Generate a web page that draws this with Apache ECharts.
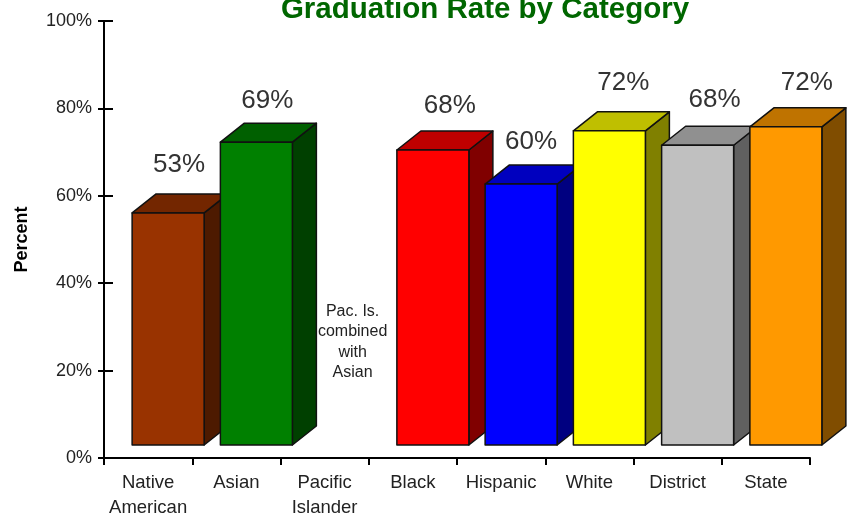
<!DOCTYPE html>
<html>
<head>
<meta charset="utf-8">
<style>html,body{margin:0;padding:0;background:#fff}#c{width:851px;height:517px}</style>
<script src="https://cdn.jsdelivr.net/npm/echarts@6/dist/echarts.min.js"></script>
</head>
<body>
<div id="c"></div>
<script>
var categories = ['Native\nAmerican', 'Asian', 'Pacific\nIslander', 'Black', 'Hispanic', 'White', 'District', 'State'];
var heights = [53.1, 69.3, null, 67.5, 59.7, 71.9, 68.6, 72.8];
var valueLabels = ['53%', '69%', null, '68%', '60%', '72%', '68%', '72%'];
var frontColors = ['#993300', '#008000', null, '#ff0000', '#0000ff', '#ffff00', '#c0c0c0', '#ff9900'];
var yTicks = [0, 20, 40, 60, 80, 100];
var noteCategory = 2;
var noteValue = 26.5;
var noteText = 'Pac. Is.\ncombined\nwith\nAsian';

// 3D projection look
var SHIFT_X = 20, BASE_UP = 13, BAR_W = 72, DX = 24, DY = 19;
var labelRise = [48, 41, 0, 44, 42, 48, 45, 44];
var labelShift = [11, 11, 0, 17, 10, 14, 17, 21];

function shade(hex, f) {
  var n = parseInt(hex.slice(1), 16);
  var c = [n >> 16 & 255, n >> 8 & 255, n & 255].map(function (v) { return Math.round(v * f); });
  return 'rgb(' + c.join(',') + ')';
}

function renderBar(params, api) {
  var i = api.value(0);
  var v = heights[i];
  var c0 = api.coord([i, 0]);
  var c1 = api.coord([i, v]);
  var cx = c0[0] + SHIFT_X;
  var l = cx - BAR_W / 2, r = cx + BAR_W / 2, b = c0[1] - BASE_UP, t = c1[1] - BASE_UP;
  var col = frontColors[i];
  var line = { stroke: '#111', lineWidth: 1.5, lineJoin: 'round' };
  function poly(points, fill) {
    return { type: 'polygon', shape: { points: points }, style: Object.assign({ fill: fill }, line) };
  }
  return {
    type: 'group',
    children: [
      poly([[r, b], [r + DX, b - DY], [r + DX, t - DY], [r, t]], shade(col, 0.5)),
      poly([[l, t], [l + DX, t - DY], [r + DX, t - DY], [r, t]], shade(col, 0.75)),
      poly([[l, b], [r, b], [r, t], [l, t]], col),
      {
        type: 'text',
        style: {
          text: valueLabels[i], x: cx + labelShift[i], y: t - labelRise[i],
          align: 'center', verticalAlign: 'middle',
          font: '26px "Liberation Sans", Arial, sans-serif', fill: '#333'
        }
      }
    ]
  };
}

function renderNote(params, api) {
  var c = api.coord([noteCategory, noteValue]);
  return {
    type: 'text',
    style: {
      text: noteText, x: c[0] + 28, y: c[1],
      align: 'center', verticalAlign: 'middle', lineHeight: 20.5,
      font: '16px "Liberation Sans", Arial, sans-serif', fill: '#222'
    }
  };
}

var barData = [];
heights.forEach(function (v, i) { if (v !== null) barData.push([i, v]); });

var chart = echarts.init(document.getElementById('c'), null, { renderer: 'canvas' });
var yAxisBase = {
  type: 'value', min: yTicks[0], max: yTicks[yTicks.length - 1], interval: 20, position: 'left',
  splitLine: { show: false }
};
chart.setOption({
  animation: false,
  backgroundColor: '#fff',
  title: {
    text: 'Graduation Rate by Category', left: 480, top: -10, textAlign: 'center',
    textStyle: { color: '#006600', fontSize: 29.5, fontWeight: 'bold', fontFamily: '"Liberation Sans", Arial, sans-serif' }
  },
  grid: { left: 104, right: 41, top: 21, bottom: 59, outerBoundsMode: 'none' },
  xAxis: {
    type: 'category', data: categories,
    axisLine: { lineStyle: { color: '#000', width: 2 } },
    axisTick: { show: true, length: 7, alignWithLabel: false, lineStyle: { color: '#000', width: 2 } },
    axisLabel: {
      interval: 0, margin: 12, color: '#222', fontSize: 18.5, lineHeight: 25,
      fontFamily: '"Liberation Sans", Arial, sans-serif'
    }
  },
  yAxis: [
    Object.assign({}, yAxisBase, {
      name: 'Percent', nameLocation: 'middle', nameGap: 73, nameRotate: 90,
      nameTextStyle: { color: '#000', fontSize: 18, fontWeight: 'bold', fontFamily: '"Liberation Sans", Arial, sans-serif' },
      axisLine: { show: true, lineStyle: { color: '#000', width: 2 } },
      axisTick: { show: true, length: 6, lineStyle: { color: '#000', width: 2 } },
      axisLabel: {
        margin: 12, color: '#222', fontSize: 18, formatter: '{value}%',
        fontFamily: '"Liberation Sans", Arial, sans-serif'
      }
    }),
    Object.assign({}, yAxisBase, {
      axisLine: { show: false },
      axisTick: { show: true, inside: true, length: 9, lineStyle: { color: '#000', width: 2 } },
      axisLabel: { show: false }
    })
  ],
  series: [
    { type: 'custom', coordinateSystem: 'cartesian2d', renderItem: renderBar, clip: false,
      encode: { x: 0, y: 1 }, data: barData },
    { type: 'custom', coordinateSystem: 'cartesian2d', renderItem: renderNote, clip: false,
      encode: { x: 0, y: 1 }, data: [[noteCategory, noteValue]] }
  ]
});
</script>
</body>
</html>
